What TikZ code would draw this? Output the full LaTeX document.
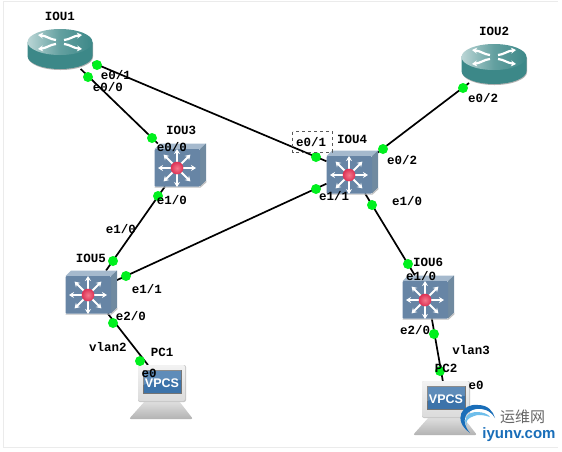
\documentclass[tikz,border=0pt]{standalone}
\usepackage{fontspec}
\setmainfont{Liberation Mono}[BoldFont=* Bold]
\newfontfamily\cjkfont{Noto Sans CJK SC}
\newfontfamily\wmfont{Liberation Sans}
\usetikzlibrary{arrows.meta,shadings}
\definecolor{teal1}{RGB}{60,136,136}
\definecolor{teal2}{RGB}{45,112,114}
\definecolor{steel}{RGB}{103,133,165}
\definecolor{steeltop}{RGB}{165,185,205}
\definecolor{steelside}{RGB}{112,138,160}
\definecolor{ledgreen}{RGB}{0,240,30}
\definecolor{vpcsblue}{RGB}{60,115,170}
\definecolor{wmblue}{RGB}{25,110,185}
\definecolor{wmlight}{RGB}{110,190,235}
\definecolor{ballin}{RGB}{245,120,140}
\definecolor{ballout}{RGB}{220,50,85}
\tikzset{
 x=1pt,y=-1pt,
 anchorbox/.style={inner sep=0pt,outer sep=0pt},
 link/.style={draw=black,line width=1.7pt},
 led/.style={circle,fill=ledgreen,inner sep=0pt,minimum size=10pt},
 lbl/.style={font=\fontsize{12.5}{12.5}\selectfont\bfseries,inner sep=0pt,text=black},
 routerpic/.pic={
  \fill[black!30] (-32,-6) -- (-32,8) arc[x radius=32.5,y radius=13,start angle=180,end angle=0] -- (33.2,-6) -- cycle;
  \fill[teal1] (-32.5,-7) -- (-32.5,7) arc[x radius=32.5,y radius=13,start angle=180,end angle=0] -- (32.5,-7) -- cycle;
  \shade[left color=teal1!35!white,right color=teal1,middle color=teal1!80!white] (0,-7) ellipse[x radius=32.5,y radius=13];
  \foreach \s/\t in {1/1,-1/1,1/-1,-1/-1}{
   \draw[white,line width=2.2pt,-{Stealth[length=5pt,width=6pt]}] (\s*4,\t*2-7) .. controls (\s*10,\t*2.5-7) and (\s*13,\t*6-7) .. (\s*22,\t*7-7);
  }
 },
 switchpic/.pic={
  \fill[steeltop] (-25.5,-16) -- (-20,-21.5) -- (26,-21.5) -- (20,-16) -- cycle;
  \fill[steelside] (20,-16) -- (26,-21.5) -- (26,16) -- (20,21.5) -- cycle;
  \fill[black!25] (-25.5,21.5) -- (20,21.5) -- (26,16) -- (26.7,17) -- (20.5,22.6) -- (-25.5,22.6) -- cycle;
  \fill[steel,rounded corners=1pt] (-25.5,-16) rectangle (20,21.5);
  \foreach \a in {0,45,...,315}{
   \draw[white,line width=2.1pt,-{Stealth[length=5pt,width=6pt]}] (-3,3) -- ++(\a:19);
  }
  \shade[inner color=ballin,outer color=ballout] (-3,3) circle[radius=6.3];
 },
 pcpic/.pic={
  \shade[top color=black!12,bottom color=black!30,rounded corners=2pt] (-17,18) -- (17,18) -- (31,36) -- (-33,36) -- cycle;
  \fill[black!22,rounded corners=2pt] (-24,-18) rectangle (24,19);
  \shade[top color=black!5,bottom color=black!14,rounded corners=2pt] (-24,-18) rectangle (23,18);
  \draw[black!55,line width=.6pt,fill=vpcsblue] (-19,-13) rectangle (19,10);
  \fill[white,opacity=.18] (-19,-13) -- (19,-13) -- (19,-3) .. controls (5,-4) and (-8,-2) .. (-19,2) -- cycle;
  \node[anchor=center,inner sep=0pt,text=white] at (0,0) {\wmfont\bfseries\fontsize{12.5}{12.5}\selectfont VPCS};
 }
}
\begin{document}
\begin{tikzpicture}
\useasboundingbox (0,0) rectangle (562,451);
\fill[white] (0,0) rectangle (562,451);
\draw[black!8,line width=1pt] (3,1) -- (3,447) -- (558,447);
\draw[black!8,line width=1pt] (3,1) -- (558,1);
% device anchors
\node[anchorbox,minimum width=65pt,minimum height=40pt] (iou1) at (60,49) {};
\node[anchorbox,minimum width=65pt,minimum height=38pt] (iou2) at (494,64) {};
\node[anchorbox,minimum width=51pt,minimum height=43pt] (iou3) at (180,165) {};
\node[anchorbox,minimum width=51pt,minimum height=43pt] (iou4) at (352,172) {};
\node[anchorbox,minimum width=51pt,minimum height=43pt] (iou5) at (91,292) {};
\node[anchorbox,minimum width=51pt,minimum height=43pt] (iou6) at (428,297) {};
\node[anchorbox,minimum width=47pt,minimum height=36pt] (pc1) at (162,383) {};
\node[anchorbox,minimum width=49pt,minimum height=36pt] (pc2) at (446,399) {};
% connectors
\draw[link] (iou1) -- (iou3);
\draw[link] (iou1) -- (iou4);
\draw[link] (iou2) -- (iou4);
\draw[link] (iou3) -- (iou5);
\draw[link] (iou4) -- (iou5);
\draw[link] (iou4) -- (iou6);
\draw[link] (iou5) -- (pc1);
\draw[link] (iou6) -- (pc2);
% devices
\pic at (60,49) {routerpic};
\pic at (494,64) {routerpic};
\pic at (180,165) {switchpic};
\pic at (352,172) {switchpic};
\pic at (91,292) {switchpic};
\pic at (428,297) {switchpic};
\pic at (162,383) {pcpic};
\pic at (446,399) {pcpic};
% interface LEDs
\node[led] (d1) at (97,65) {};
\node[led] (d2) at (88,77) {};
\node[led] (d3) at (152,138) {};
\node[led] (d4) at (158,196) {};
\node[led] (d5) at (113,261) {};
\node[led] (d6) at (126,276) {};
\node[led] (d7) at (113,323) {};
\node[led] (d8) at (140,361) {};
\node[led] (d9) at (316,157) {};
\node[led] (d10) at (316,189) {};
\node[led] (d11) at (383,149) {};
\node[led] (d12) at (372,205) {};
\node[led] (d13) at (463,88) {};
\node[led] (d14) at (408,264) {};
\node[led] (d15) at (434,334) {};
\node[led] (d16) at (440,371) {};
% device names
\node[lbl] (t1) at (60,16) {IOU1};
\node[lbl] (t2) at (494,31) {IOU2};
\node[lbl] (t3) at (181,130) {IOU3};
\node[lbl] (t4) at (352,139) {IOU4};
\node[lbl] (t5) at (91,258) {IOU5};
\node[lbl] (t6) at (428,262) {IOU6};
\node[lbl] (t7) at (162,352) {PC1};
\node[lbl] (t8) at (446,368) {PC2};
% interface labels
\node[lbl] (l1) at (116,75) {e0/1};
\node[lbl] (l2) at (108,87) {e0/0};
\node[lbl] (l3) at (172,147) {e0/0};
\node[lbl] (l4) at (172,200) {e1/0};
\node[lbl] (l5) at (121,229) {e1/0};
\node[lbl] (l6) at (147,289) {e1/1};
\node[lbl] (l7) at (131,316) {e2/0};
\node[lbl] (l8) at (108,347) {vlan2};
\node[lbl] (l9) at (149,373) {e0};
\node[lbl] (l10) at (311,142) {e0/1};
\node[lbl] (l11) at (334,196) {e1/1};
\node[lbl] (l12) at (402,160) {e0/2};
\node[lbl] (l13) at (407,201) {e1/0};
\node[lbl] (l14) at (483,98) {e0/2};
\node[lbl] (l15) at (421,276) {e1/0};
\node[lbl] (l16) at (415,330) {e2/0};
\node[lbl] (l17) at (471,350) {vlan3};
\node[lbl] (l18) at (476,385) {e0};
% selection box around e0/1
\draw[black!65,dashed,line width=.8pt] (292.5,131.5) rectangle (332,152);
% watermark
\fill[wmblue] (470,433) .. controls (452,420) and (462,403) .. (478,405) .. controls (488,405) and (493,411) .. (495,418) .. controls (490,410) and (483,408) .. (476,409) .. controls (465,411) and (460,421) .. (470,433) -- cycle;
\fill[wmlight] (467,426) .. controls (462,418) and (468,412) .. (477,412) .. controls (483,412) and (488,414) .. (490,417) .. controls (484,415) and (478,414) .. (474,416) .. controls (468,418) and (465,421) .. (467,426) -- cycle;
\node[inner sep=0pt,text=black!60,font=\cjkfont\fontsize{15}{15}\selectfont] (wm1) at (522.5,417) {运维网};
\node[inner sep=0pt,text=wmblue,font=\wmfont\bfseries\fontsize{15}{15}\selectfont] (wm2) at (519,435) {iyunv.com};
\end{tikzpicture}
\end{document}
